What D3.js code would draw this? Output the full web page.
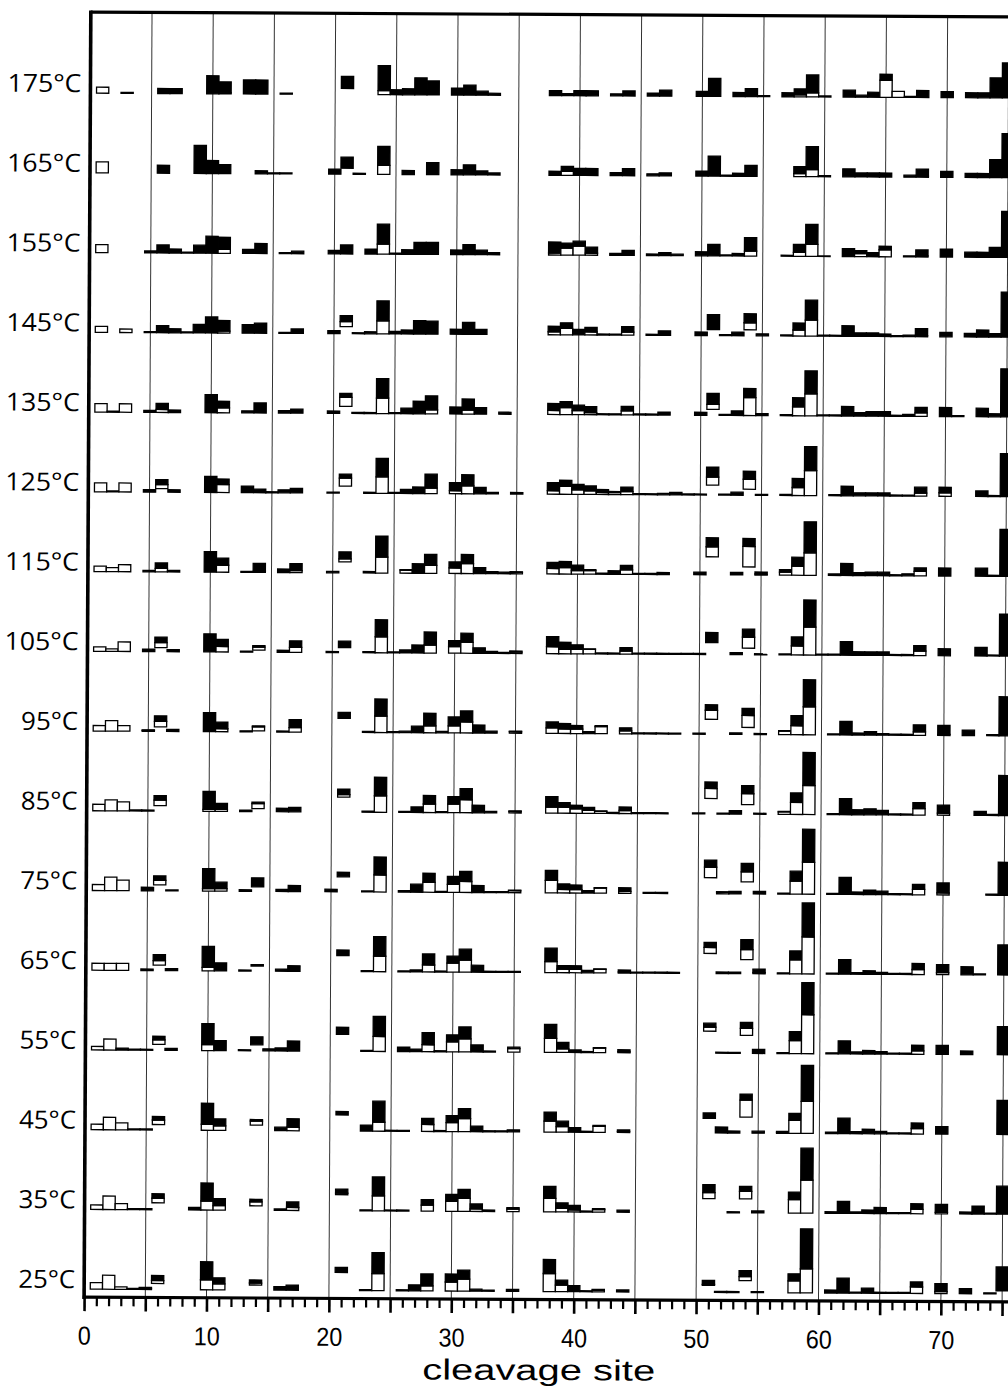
<!DOCTYPE html>
<html><head><meta charset="utf-8">
<script src="https://cdn.jsdelivr.net/npm/d3@7"></script>
<style>html,body{margin:0;padding:0;background:#fff;} svg{display:block}</style>
</head><body>
<svg id="c" width="1008" height="1386"></svg>
<script>
// ---------------- data ----------------
const temperatures = [175,165,155,145,135,125,115,105,95,85,75,65,55,45,35,25];
const xTickValues = [0,10,20,30,40,50,60,70];
// each entry: [cleavage site, white part, black part, unfilled gap below]
const t175 = [[1,6,0],[3,0,1],[6,0,5],[7,0,5],[10,0,18],[11,1,11],[13,0,14],[14,0,14],[16,0,1],[21,0,12,6],[24,4,25],[25,0,5],[26,0,6],[27,0,17],[28,0,14],[30,0,7],[31,0,10],[32,0,4],[33,0,2],[38,0,5],[39,0,2],[40,0,5],[41,0,5],[43,0,2],[44,0,5],[46,0,3],[47,0,6],[50,0,5],[51,0,18],[53,0,4],[54,0,8],[55,0,1],[57,0,4],[58,2,6],[59,4,18],[60,0,1],[62,0,7],[63,0,2],[64,0,5],[65,17,6],[66,6,0],[67,0,1],[68,0,7],[70,0,6],[72,0,5],[73,0,5],[74,0,20],[75,0,35]];
const t165 = [[1,11,0],[6,0,8],[9,0,28],[10,0,13],[11,0,9],[14,0,3],[15,0,1],[16,0,1],[20,0,5],[21,0,11,6],[22,0,1],[24,9,19],[26,0,4],[28,0,12],[30,0,5],[31,0,10],[32,0,4],[33,0,2],[38,0,4],[39,4,5],[40,0,7],[41,0,7],[43,0,3],[44,0,7],[46,0,2],[47,0,3],[50,0,5],[51,0,20],[52,0,1],[53,0,3],[54,0,11],[58,3,7],[59,7,23],[60,0,1],[62,0,8],[63,0,4],[64,0,4],[65,0,4],[67,0,2],[68,1,7],[70,0,6],[72,0,4],[73,0,4],[74,0,18],[75,0,44]];
const t155 = [[1,8,0],[5,0,2],[6,0,8],[7,0,4],[8,0,1],[9,0,8],[10,0,17],[11,4,12],[13,0,4],[14,0,10],[16,0,1],[17,0,2.5],[20,0,3.5],[21,0,9],[23,0,5],[24,10,20],[25,0,1],[26,0,4.5],[27,0,12],[28,0,12],[30,0,4.5],[31,0,10],[32,0,4.5],[33,0,2],[38,2,11],[39,7,5],[40,9,5],[41,2,6],[43,0,2],[44,0,5],[46,0,1.5],[47,0,3],[48,0,1.5],[50,0,4],[51,0,11.5],[52,0,1],[53,0,2.5],[54,5,13.5],[57,0,1],[58,4,8],[59,12,20],[60,0,0.5],[62,0,8],[63,3,3],[64,0,4],[65,7,3.5],[67,0,1],[68,1,6],[70,0,8],[72,0,5],[73,0,5],[74,0,10],[75,0,46]];
const t145 = [[1,6,0],[3,3.5,0],[5,0,1],[6,0,7],[7,0,4],[8,0,1],[9,0,8.5],[10,0,16],[11,2,10.5],[13,0,8.5],[14,0,10],[16,0,1],[17,0,4.5],[20,0,3],[21,5,6,7],[22,0,1],[23,0,2],[24,13,20],[25,0,2.5],[26,0,4],[27,0,13.5],[28,0,13],[30,0,5],[31,1,11],[32,0,5],[38,3,5.5],[39,6.5,5.5],[40,0,5.5],[41,3,4.5],[42,0,1],[43,0,1],[44,3,5.5],[46,0,1],[47,0,4.5],[50,0,3.5],[51,0,15,6],[52,0,1],[53,0,3.5],[54,7,9,6],[55,0,2],[57,0,1],[58,6,7],[59,16,20],[60,0,1],[61,0,1],[62,0,10.5],[63,0,3.5],[64,0,3.5],[65,0,2.5],[66,0,1],[67,0,1.5],[68,1,7],[70,0,4.5],[72,0,3.5],[73,0,7],[74,0,3.5],[75,0,45]];
const t135 = [[1,8.5,0],[2,0,1],[3,8.5,0],[5,0,2],[6,3,6],[7,0,2.5],[10,0,18],[11,5,6.5],[13,0,2],[14,0,10],[16,0,2.5],[17,0,4],[20,0,2.3],[21,9,4,7],[22,0,1],[23,0,1],[24,15.5,19.5],[25,0,1],[26,0,5.5],[27,0,12.5],[28,4,14],[30,0,7],[31,4,11],[32,0,6.5],[34,0,2],[38,4,7],[39,7,6],[40,4,5.5],[41,2,6],[42,0,1],[43,0,1],[44,4,4.5],[45,0,1],[46,0,1],[47,0,3],[50,0,3],[51,5,11,6],[52,0,1],[53,0,4.5],[54,18,9],[55,0,2],[57,0,1],[58,9,9],[59,22,23],[60,0,1],[61,0,1],[62,0,9.5],[63,0,3.5],[64,0,4.5],[65,0,4.5],[66,0,1],[67,0,2],[68,3.5,5.5],[70,0,9],[71,0,1],[73,0,8.5],[74,0,3],[75,0,48]];
const t125 = [[1,9,0],[2,0,1],[3,9,0],[5,0,2.5],[6,4,5,3.5],[7,0,2.5],[10,0,16],[11,8,5.5],[13,0,6.5],[14,0,3.5],[15,0,1],[16,0,3],[17,0,4.5],[20,0,1],[21,8,4,7],[23,0,1],[24,16.5,18.5],[25,0,1],[26,0,4],[27,0,6.5],[28,5.5,14],[30,3,8],[31,8,11],[32,0,6.5],[33,0,1.5],[35,0,1.5],[38,3.5,8],[39,8,6],[40,4.5,5.5],[41,3.5,5],[42,2,3],[43,2,1],[44,3,4.5],[45,0,1],[46,0,1],[47,0,1.5],[48,0,2.5],[49,0,1],[50,0,1],[51,8,10,10],[52,0,1],[53,0,3],[54,10,8,6],[55,0,1],[57,0,1],[58,8,9],[59,25,24],[61,0,1],[62,0,9.5],[63,0,3],[64,0,3],[65,0,3],[66,0,1],[67,0,1],[68,3,6],[70,3.5,5.5],[73,0,5.5],[74,0,1],[75,0,43]];
const t115 = [[1,5.5,0],[2,4,0],[3,7,0],[5,0,1.5],[6,3.5,5.5],[7,0,1.5],[10,0,20.5],[11,7,7],[13,0,1],[14,1,8],[16,0,3.5],[17,2,7],[20,0,1.5],[21,3,7,11],[23,0,1.5],[24,16,21],[26,3,0.5],[27,0,9.5],[28,8,11],[30,5.5,6],[31,10,9],[32,0,6],[33,0,2],[34,0,1.5],[35,1.5,0.5],[38,5.5,6],[39,6.5,6],[40,3.5,5.5],[41,3.5,1],[42,0,1],[43,0,3.5],[44,4.5,4.5],[45,0,1],[46,0,1],[47,0,2],[50,0,2.5],[51,10,9,18],[53,0,2.5],[54,20.5,8,8],[55,1,2],[57,3,2.5],[58,9,9],[59,22.5,31],[61,0,1.5],[62,0,12],[63,0,3],[64,0,3.5],[65,0,3.5],[66,0,1],[67,0,2],[68,4.5,3.5],[70,0,8],[73,0,8],[74,0,1],[75,0,47]];
const t105 = [[1,4.5,0],[2,2.5,0],[3,9.5,0],[5,0,2.5],[6,5,5.5,4],[7,0,2],[10,0,18],[11,5.5,7],[13,0,1],[14,3,1.5,2],[16,0,2],[17,5,6.5],[20,0,1],[21,0,6.5,5],[23,0,1],[24,16,17],[25,0,1],[26,0,3],[27,0,8],[28,8,13],[30,6.5,6],[31,11,9],[32,0,5.5],[33,0,2],[34,0,1],[35,1.5,1],[38,7,10],[39,4.5,7],[40,4.5,4.5],[41,4.5,0.5],[42,0,1],[43,0,1],[44,3,3.5],[45,0,1],[46,0,1],[47,0,1],[48,0,1],[49,0,1],[50,0,1],[51,0,10,12],[53,0,2],[54,11,8,6.5],[55,0,1],[57,0,1],[58,9,9],[59,28,27],[60,0,1],[61,0,1],[62,0,13.5],[63,0,3.5],[64,0,3.5],[65,0,3.5],[66,0,1],[67,0,1],[68,4.5,5.5],[70,0,7],[73,0,8.5],[74,0,1],[75,0,42]];
const t95 = [[1,5.5,0],[2,10.5,0],[3,5.5,0],[5,1,0.5],[6,5.5,5.5,4.5],[7,0,2],[10,0,19],[11,3,6.5],[13,0,1],[14,4,1,1],[16,0,1],[17,4.5,8],[21,0,6,14],[23,0,1],[24,16.5,17],[25,0,1],[26,0,1.5],[27,0,6.5],[28,7,12.5],[29,0,1.5],[30,7,9],[31,11,11],[32,0,8],[33,0,2],[35,1.5,0.5],[38,5.5,6],[39,4.5,5.5],[40,4.5,3.5],[41,0,2],[42,7,1],[44,3,3],[45,0,1],[46,0,1],[47,0,1],[48,0,1],[50,0,1],[51,9,5.5,15],[53,0,1.5],[54,12,7,7],[55,0,1],[57,3.5,0.5],[58,9,10],[59,28,27],[61,0,1],[62,0,13.5],[63,0,2],[64,0,3.5],[65,0,1.5],[66,0,1],[67,0,1],[68,3.5,7],[70,1,9],[72,0,5.5],[74,0,1],[75,0,39]];
const t85 = [[1,6.5,0],[2,11,0],[3,9,0],[4,0,1],[5,0,1],[6,5.5,4.5,5.5],[10,2,18],[11,2,6],[13,0,1.5],[14,5,1.5,3],[16,0,3.5],[17,0,4.5],[21,2.5,5.5,15],[23,0,1],[24,16.5,18.5],[26,0,1],[27,0,5.5],[28,8.5,8.5],[29,0,1],[30,8.5,7.5],[31,13,11],[32,0,7.5],[33,0,1.5],[35,1.5,0.5],[38,6,10.5],[39,6,4.5],[40,4.5,3.5],[41,3,3],[42,2,0.5],[43,0,1],[44,3,3.5],[45,0,1],[46,0,1],[47,0,1],[50,0,1],[51,10,6.5,15.5],[52,0,1],[53,0,3.5],[54,11,8,9.5],[55,0,1],[57,2.5,0.5],[58,12,9.5],[59,29,33],[61,0,1],[62,0,16],[63,0,5],[64,0,6],[65,0,4.5],[66,0,1],[67,0,1],[68,6.5,6],[70,2,8],[73,0,4],[74,0,1],[75,0,40]];
const t75 = [[1,6,0],[2,13.5,0],[3,10.5,0],[5,0,3.5],[6,4.5,4.5,6],[7,0,1],[10,2.5,20],[11,2.5,6.5],[13,0,1.5],[14,0,9,4.5],[16,0,2],[17,0,6],[20,0,2.5],[21,0,4.5,15],[23,0,1],[24,17,18],[26,0,1.5],[27,0,8],[28,10,9],[29,0,1],[30,8,8],[31,11,10],[32,0,7],[33,0,1],[34,0,1],[35,2,0.5],[38,12.5,10],[39,3.5,5.5],[40,3.5,4.5],[41,0,2.5],[42,5,0.5],[44,2,3.5],[46,0,1],[47,0,1],[51,10.5,7,16],[52,1.5,0.5],[53,0,2.5],[54,10,8.5,12],[55,0,2.5],[57,0,1],[58,13,10],[59,32,33],[61,0,1],[62,0,17],[63,0,2.5],[64,0,4.5],[65,0,3.5],[66,0,1],[67,0,1],[68,5.5,5],[70,2,10],[74,0,1],[75,0,33]];
const t65 = [[1,7,0],[2,7,0],[3,7,0],[5,0,1.5],[6,4.5,6,5.5],[7,0,2],[10,3.5,21],[11,0,8],[13,0,1],[14,0,1.5,5],[16,0,2],[17,0,5.5],[21,0,5.5,16],[23,0,1],[24,15.5,19.5],[26,0,1],[27,0,2],[28,7,11],[29,0,1],[30,9,7],[31,12,11],[32,0,7],[33,0,1],[34,0,1],[35,0,1],[38,11,13.5],[39,3.5,3.5],[40,3.5,3.5],[41,0,2.5],[42,3.5,0.5],[44,1,2],[45,0,1],[46,0,1],[47,0,1],[48,0,1],[51,6,5,20],[52,0,1.5],[53,0,1.5],[54,10,10,14],[55,1,3.5],[57,0,1],[58,14,9],[59,37,34],[61,0,1],[62,0,14.5],[63,0,1.5],[64,0,3.5],[65,0,2],[66,0,1],[67,0,1],[68,5,6],[70,2,8],[72,0,8],[73,0,1],[75,0,30]];
const t55 = [[1,3.5,0],[2,11,0],[3,0,2],[4,0,1],[5,0,1],[6,4.5,3.5,6],[7,0,2],[10,6,21],[11,0,10],[13,0,1],[14,0,8,6],[15,0,2],[16,0,3],[17,0,10],[21,0,7,17],[23,0,1],[24,15,20],[26,0,4.5],[27,0,2.5],[28,7,12],[29,0,1],[30,10,7],[31,13,12],[32,0,7],[33,0,1],[35,3.5,1.5],[38,14,14],[39,3.5,6.5],[40,0,2.5],[41,0,1],[42,4.5,0.5],[44,1,2],[51,4,4,22],[52,0,1],[53,0,1],[54,7,6,18],[55,0,4],[57,0,1],[58,13,9],[59,39,32],[61,0,1],[62,0,13],[63,0,2],[64,0,3.5],[65,0,2.5],[66,0,1],[67,0,1],[68,3.5,5.5],[70,0,9],[72,0,3.5],[75,0,28]];
const t45 = [[1,5.5,0],[2,12.5,0],[3,7,0],[4,0,1],[5,0,1],[6,4.5,3.5,5.5],[10,6,21],[11,4.5,7],[14,4,1.5,5.5],[16,1,2.5],[17,3.5,8.5],[21,0,3.5,16],[23,0,6],[24,9,21],[25,0,1],[26,0,1],[28,7,6],[29,0,1],[30,9,7],[31,13,10],[32,0,5.5],[33,0,1],[34,0,1],[35,0,2],[38,11,9],[39,5.5,5.5],[40,0,4.5],[41,0,1],[42,6,1],[44,1,1.5],[51,0,5.5,14.5],[52,0,6],[53,0,2],[54,17,6,16],[55,0,2],[57,1,1],[58,13,7],[59,32,36],[61,0,1.5],[62,0,15.5],[63,0,2],[64,0,4.5],[65,0,2.5],[66,0,1],[67,0,1],[68,5.5,5.5],[70,0,7.5],[75,0,34]];
const t35 = [[1,4.5,0],[2,13.5,0],[3,6,0],[4,0,1],[5,0,1],[6,4.5,4.5,7],[9,0,2.5],[10,9,18],[11,4.5,7],[14,4,2.5,4.5],[16,0,1.5],[17,3,5.5],[21,1.5,4,16],[23,0,1],[24,15,19],[25,0,1],[26,0,1],[28,6,5.5],[30,10,7],[31,13,9],[32,2.5,5],[33,0,1.5],[35,2.5,1.5],[38,13.5,12],[39,3.5,5.5],[40,2,4.5],[41,0,1],[42,2.5,1],[44,0,2],[51,6,8,14],[53,0,1],[54,7.5,5,14],[55,0,2],[58,13.5,7.5],[59,33,32],[61,0,1.5],[62,0,12],[63,0,1.5],[64,0,3.5],[65,0,6],[66,0,1],[67,0,1],[68,4.5,5.5],[70,1.5,8],[72,0,2],[73,0,8],[74,0,1],[75,0,28]];
const t25 = [[1,6.5,0],[2,14,0],[3,2.5,0],[4,0,1],[5,1,1],[6,3,5,6],[10,10,18],[11,6,6],[14,2,3,5],[16,0,3.5],[17,0,5],[21,0,5,18],[23,0,1],[24,17,21],[26,0,1],[27,0,6],[28,5,12],[30,9,8],[31,12,9],[32,0,2],[33,0,1],[35,0,2],[38,18,14],[39,6.5,5],[40,0,6],[41,0,1],[42,1.5,1],[44,0,2],[51,1,4,7],[52,0,1],[53,0,1],[54,4,6,12],[55,0,1],[58,12,7],[59,24,40],[61,0,3],[62,0,15],[63,0,1],[64,0,5],[65,0,1],[66,0,1],[67,0,1],[68,6.5,5],[70,2,8],[72,0,5],[74,0,1],[75,0,24,3]];
const rowSeries = [t175,t165,t155,t145,t135,t125,t115,t105,t95,t85,t75,t65,t55,t45,t35,t25];

// ---------------- drawing ----------------
const svg = d3.select("#c");
svg.append("rect").attr("width",1008).attr("height",1386).attr("fill","#fff");
const g = svg.append("g").attr("transform","rotate(0.3 540 650)");

const x = d3.scaleLinear().domain([0,75]).range([87.5, 87.5 + 75*12.24]);
const rowY = d3.scaleLinear().domain([0,15]).range([95.5, 1291.5]);
const h = d3.scaleLinear().domain([0,10]).range([0,10]);
const plotTop = 14.4, axisY = 1299.5;
const FONT = "'Open Sans', 'Liberation Sans', sans-serif";
const AXFONT = "'Liberation Sans', Arial, sans-serif";

// vertical grid lines every 5 sites
g.append("g").selectAll("line").data(d3.range(5,76,5)).join("line")
  .attr("x1", d => x(d)).attr("x2", d => x(d))
  .attr("y1", plotTop).attr("y2", axisY)
  .attr("stroke","#333").attr("stroke-width",1);

// bars
rowSeries.forEach((series, i) => {
  const base = rowY(i);
  const rg = g.append("g").attr("class","row");
  series.forEach(([s, wv, bv, gap]) => {
    const x0 = x(s - 0.5), bw = x(s + 0.5) - x(s - 0.5);
    const b0 = base - h(gap || 0);
    if (wv > 0) {
      rg.append("rect").attr("x", x0).attr("width", bw)
        .attr("y", b0 - h(wv)).attr("height", h(wv))
        .attr("fill","#fff").attr("stroke","#000").attr("stroke-width",1.3);
    }
    if (bv > 0) {
      rg.append("rect").attr("x", x0).attr("width", bw)
        .attr("y", b0 - h(wv) - h(bv)).attr("height", h(bv))
        .attr("fill","#000").attr("stroke","#000").attr("stroke-width",1.3);
    }
  });
});

// frame (top and left)
g.append("line").attr("x1", x(0)).attr("x2", 1030).attr("y1", plotTop).attr("y2", plotTop)
  .attr("stroke","#000").attr("stroke-width",3.2);
g.append("line").attr("x1", x(0)).attr("x2", x(0)).attr("y1", plotTop - 1.5).attr("y2", axisY + 2)
  .attr("stroke","#000").attr("stroke-width",3.6);

// minor ticks
const minorAxis = d3.axisBottom(x).tickValues(d3.range(0,76,1).filter(v => v % 5 !== 0))
  .tickSize(9).tickSizeOuter(0).tickFormat("");
const mg = g.append("g").attr("transform", `translate(0,${axisY})`).call(minorAxis);
mg.select(".domain").remove();
mg.selectAll(".tick line").attr("stroke","#000").attr("stroke-width",2.2);

// major ticks + labels
const majorAxis = d3.axisBottom(x).tickValues(d3.range(0,76,5))
  .tickSize(14).tickSizeOuter(0).tickPadding(15)
  .tickFormat(d => xTickValues.includes(d) ? String(d) : "");
const ag = g.append("g").attr("transform", `translate(0,${axisY})`).call(majorAxis);
ag.select(".domain").remove();
ag.selectAll(".tick line").attr("stroke","#000").attr("stroke-width",2.6);
ag.selectAll(".tick text").attr("font-family", AXFONT).attr("font-size", 26)
  .attr("fill","#000")
  .each(function(d){ const t=String(d); if (xTickValues.includes(d)) d3.select(this).attr("textLength", t.length===1 ? 13 : 26).attr("lengthAdjust","spacingAndGlyphs"); });
g.append("line").attr("x1", x(0) - 1.5).attr("x2", 1030).attr("y1", axisY).attr("y2", axisY)
  .attr("stroke","#000").attr("stroke-width",3.2);

// row labels
g.append("g").selectAll("text").data(temperatures).join("text")
  .attr("x", 78.5).attr("y", (d,i) => rowY(i) - 1)
  .attr("text-anchor","end")
  .attr("font-family", FONT).attr("font-size", 25).attr("fill","#000")
  .attr("textLength", d => d >= 100 ? 74 : 57).attr("lengthAdjust","spacingAndGlyphs")
  .text(d => d + "°C");

// axis title
g.append("text").attr("x", 542.5).attr("y", 1380).attr("text-anchor","middle")
  .attr("font-family", AXFONT).attr("font-size", 29).attr("fill","#000")
  .attr("textLength", 233).attr("lengthAdjust","spacingAndGlyphs")
  .text("cleavage site");
</script>
</body></html>
